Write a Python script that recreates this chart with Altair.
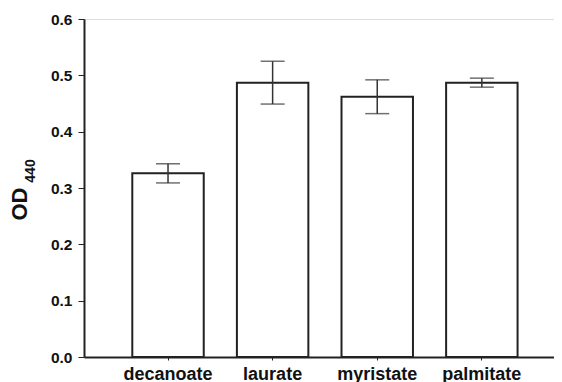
import altair as alt
import pandas as pd

categories = ["decanoate", "laurate", "myristate", "palmitate"]
means = [0.326, 0.487, 0.462, 0.487]
errors = [0.017, 0.038, 0.030, 0.008]
y_ticks = [0.0, 0.1, 0.2, 0.3, 0.4, 0.5, 0.6]

df = pd.DataFrame({
    "cat": categories,
    "mean": means,
    "lo": [m - e for m, e in zip(means, errors)],
    "hi": [m + e for m, e in zip(means, errors)],
})

FONT = "Liberation Sans"
DARK = "#222222"

xscale = alt.Scale(domain=categories, paddingInner=0.317, paddingOuter=0.405, align=0.57)
yscale = alt.Scale(domain=[0, 0.6], nice=False, zero=True)

base = alt.Chart(df)

bars = base.mark_bar(fill="white", stroke=DARK, strokeWidth=2).encode(
    x=alt.X("cat:N", scale=xscale, sort=categories,
            axis=alt.Axis(title=None, labelAngle=0, labelFont=FONT, labelFontSize=18,
                          labelFontWeight="bold", labelColor="#111111", tickSize=3,
                          tickColor=DARK, tickWidth=1, labelPadding=5,
                          domainColor=DARK, domainWidth=2)),
    y=alt.Y("mean:Q", scale=yscale,
            axis=alt.Axis(title=None, values=y_ticks, format=".1f", grid=False,
                          labelFont=FONT, labelFontSize=15.5, labelFontWeight="bold",
                          labelColor="#111111", tickSize=6, tickColor=DARK, tickWidth=1,
                          labelPadding=6, domainColor=DARK, domainWidth=2)),
)

rules = base.mark_rule(color="#333333", strokeWidth=1.5).encode(
    x=alt.X("cat:N", scale=xscale, sort=categories),
    y=alt.Y("lo:Q", scale=yscale),
    y2="hi:Q",
)

caps_hi = base.mark_tick(color="#333333", size=24, thickness=1.5).encode(
    x=alt.X("cat:N", scale=xscale, sort=categories),
    y=alt.Y("hi:Q", scale=yscale),
)
caps_lo = base.mark_tick(color="#333333", size=24, thickness=1.5).encode(
    x=alt.X("cat:N", scale=xscale, sort=categories),
    y=alt.Y("lo:Q", scale=yscale),
)

title_main = alt.Chart(pd.DataFrame({"t": ["OD"]})).mark_text(
    font=FONT, fontSize=22, fontWeight="bold", angle=270, align="center",
    baseline="middle", color="#111111",
).encode(x=alt.value(-64), y=alt.value(185), text="t:N")

title_sub = alt.Chart(pd.DataFrame({"t": ["440"]})).mark_text(
    font=FONT, fontSize=14, fontWeight="bold", angle=270, align="center",
    baseline="middle", color="#111111",
).encode(x=alt.value(-53), y=alt.value(152), text="t:N")

chart = alt.layer(bars, rules, caps_hi, caps_lo, title_main, title_sub).properties(
    width=470, height=338,
    autosize=alt.AutoSizeParams(type="none"),
    padding={"left": 76, "top": 11, "right": 0, "bottom": 27},
).configure_view(stroke=None).configure(background="white")

chart.save("out.html", embed_options={"renderer": "svg", "actions": False})
